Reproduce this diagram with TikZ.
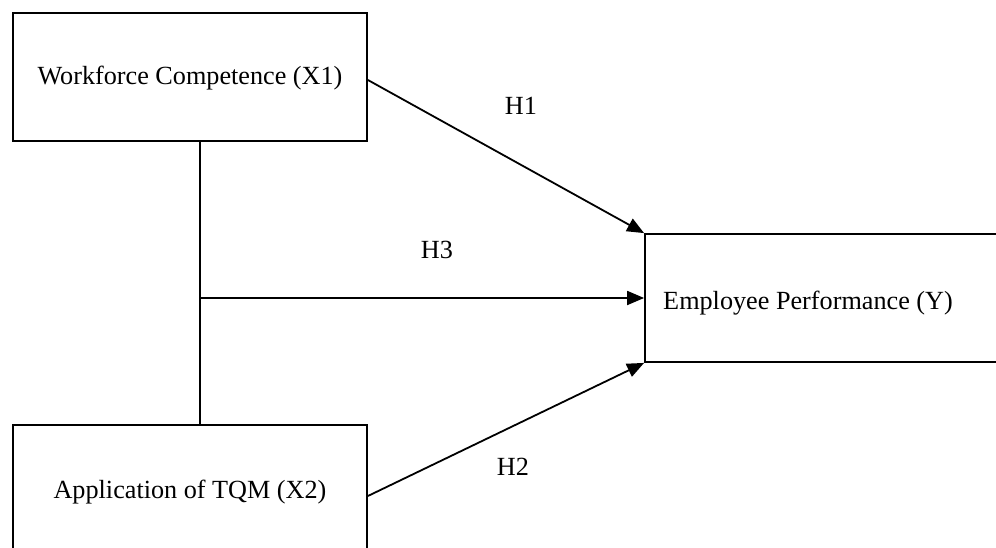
\documentclass[tikz,border=0pt]{standalone}
\usepackage{fontspec}
\setmainfont{Liberation Serif}
\usetikzlibrary{arrows.meta}
\tikzset{
  box/.style={draw, line width=0.9pt, inner sep=0pt},
  lbl/.style={inner sep=0pt, font=\fontsize{13.1pt}{15pt}\selectfont},
  conn/.style={line width=0.9pt},
  arr/.style={conn, -{Triangle[length=8.5pt,width=7pt]}}
}
\begin{document}
\begin{tikzpicture}[x=0.5pt,y=-0.5pt]
\useasboundingbox (0,0) rectangle (996,547);
\clip (0,0) rectangle (996,547);
\fill[white] (0,0) rectangle (996,547);
% boxes
\node[box, minimum width=177pt, minimum height=64pt] (x1) at (190,77) {};
\node[box, minimum width=177pt, minimum height=71pt] (x2) at (190,496) {};
\node[box, minimum width=182.5pt, minimum height=64pt] (y) at (827.5,298) {};
% texts
\node[lbl] (tx1) at (190,78) {Workforce Competence (X1)};
\node[lbl] (tx2) at (190,492) {Application of TQM (X2)};
\node[lbl] (ty) at (808,303) {Employee Performance (Y)};
\node[lbl] (h1) at (521,106) {H1};
\node[lbl] (h3) at (437,250) {H3};
\node[lbl] (h2) at (513,467) {H2};
% connectors
\coordinate (j) at (200,298);
\draw[conn] (x1.south -| j) -- (x2.north -| j);
\draw[arr] (j) -- (y.west);
\draw[arr] ([yshift=-1.5pt]x1.east) -- (y.north west);
\draw[arr] (x2.east) -- (y.south west);
\end{tikzpicture}
\end{document}
